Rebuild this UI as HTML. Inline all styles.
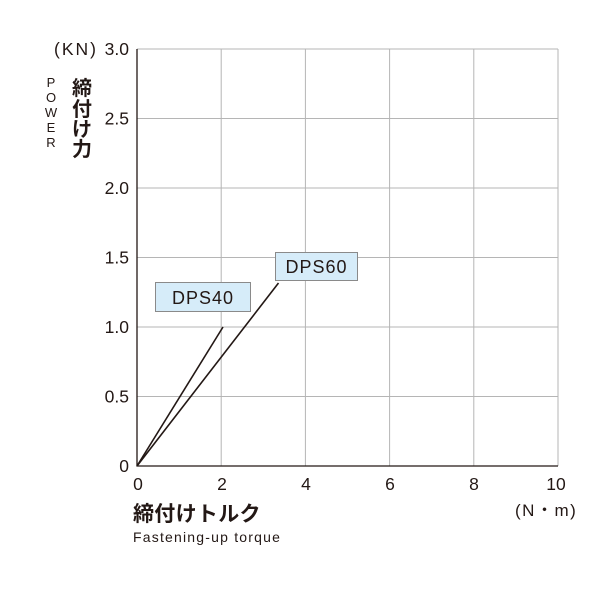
<!DOCTYPE html>
<html><head><meta charset="utf-8"><style>
html,body{margin:0;padding:0;background:#fff;}
svg{display:block;}
text{font-family:"Liberation Sans","Noto Sans CJK JP",sans-serif;fill:#231815;}
</style></head><body>
<svg width="600" height="600" viewBox="0 0 600 600" xmlns="http://www.w3.org/2000/svg">
<rect width="600" height="600" fill="#fff"/>
<g stroke="#b5b5b5" stroke-width="1">
<line x1="137" y1="49" x2="558" y2="49"/>
<line x1="137" y1="118.5" x2="558" y2="118.5"/>
<line x1="137" y1="188" x2="558" y2="188"/>
<line x1="137" y1="257.5" x2="558" y2="257.5"/>
<line x1="137" y1="327" x2="558" y2="327"/>
<line x1="137" y1="396.5" x2="558" y2="396.5"/>
<line x1="221.2" y1="49" x2="221.2" y2="466"/>
<line x1="305.4" y1="49" x2="305.4" y2="466"/>
<line x1="389.6" y1="49" x2="389.6" y2="466"/>
<line x1="473.8" y1="49" x2="473.8" y2="466"/>
<line x1="558" y1="49" x2="558" y2="466"/>
</g>
<line x1="137" y1="49" x2="137" y2="466.5" stroke="#231815" stroke-width="1.3"/>
<line x1="136.5" y1="466" x2="558" y2="466" stroke="#231815" stroke-width="1.3"/>
<g font-size="17.5" text-anchor="end">
<text x="129" y="55">3.0</text>
<text x="129" y="124.5">2.5</text>
<text x="129" y="194">2.0</text>
<text x="129" y="263.5">1.5</text>
<text x="129" y="333">1.0</text>
<text x="129" y="402.5">0.5</text>
<text x="129" y="472">0</text>
</g>
<text x="54" y="55" font-size="17.5" letter-spacing="2">(KN)</text>
<g font-size="17.5" text-anchor="middle">
<text x="138" y="490">0</text>
<text x="222" y="490">2</text>
<text x="306" y="490">4</text>
<text x="390" y="490">6</text>
<text x="474" y="490">8</text>
<text x="556" y="490">10</text>
</g>
<text x="515" y="516" font-size="17" letter-spacing="1.5">(N・m)</text>
<g font-size="13" text-anchor="middle">
<text x="51" y="87">P</text>
<text x="51" y="102">O</text>
<text x="51" y="117">W</text>
<text x="51" y="132">E</text>
<text x="51" y="147">R</text>
</g>
<g font-size="20" font-weight="bold" text-anchor="middle">
<text x="82" y="95">締</text>
<text x="82" y="116">付</text>
<text x="82" y="136">け</text>
<text x="82" y="156">力</text>
</g>
<text x="133" y="521" font-size="21" font-weight="bold" letter-spacing="0.3">締付けトルク</text>
<text x="133" y="542" font-size="14" letter-spacing="1.2">Fastening-up torque</text>
<line x1="137" y1="466" x2="223" y2="327" stroke="#231815" stroke-width="1.6"/>
<line x1="137" y1="466" x2="278.5" y2="283" stroke="#231815" stroke-width="1.6"/>
<rect x="155.5" y="282.5" width="95" height="29" fill="#d6ecf9" stroke="#8a8a8a" stroke-width="1"/>
<text x="203" y="304" font-size="18" text-anchor="middle" letter-spacing="1">DPS40</text>
<rect x="275.5" y="252.5" width="82" height="28" fill="#d6ecf9" stroke="#8a8a8a" stroke-width="1"/>
<text x="316.5" y="273" font-size="18" text-anchor="middle" letter-spacing="1">DPS60</text>
</svg>
</body></html>
